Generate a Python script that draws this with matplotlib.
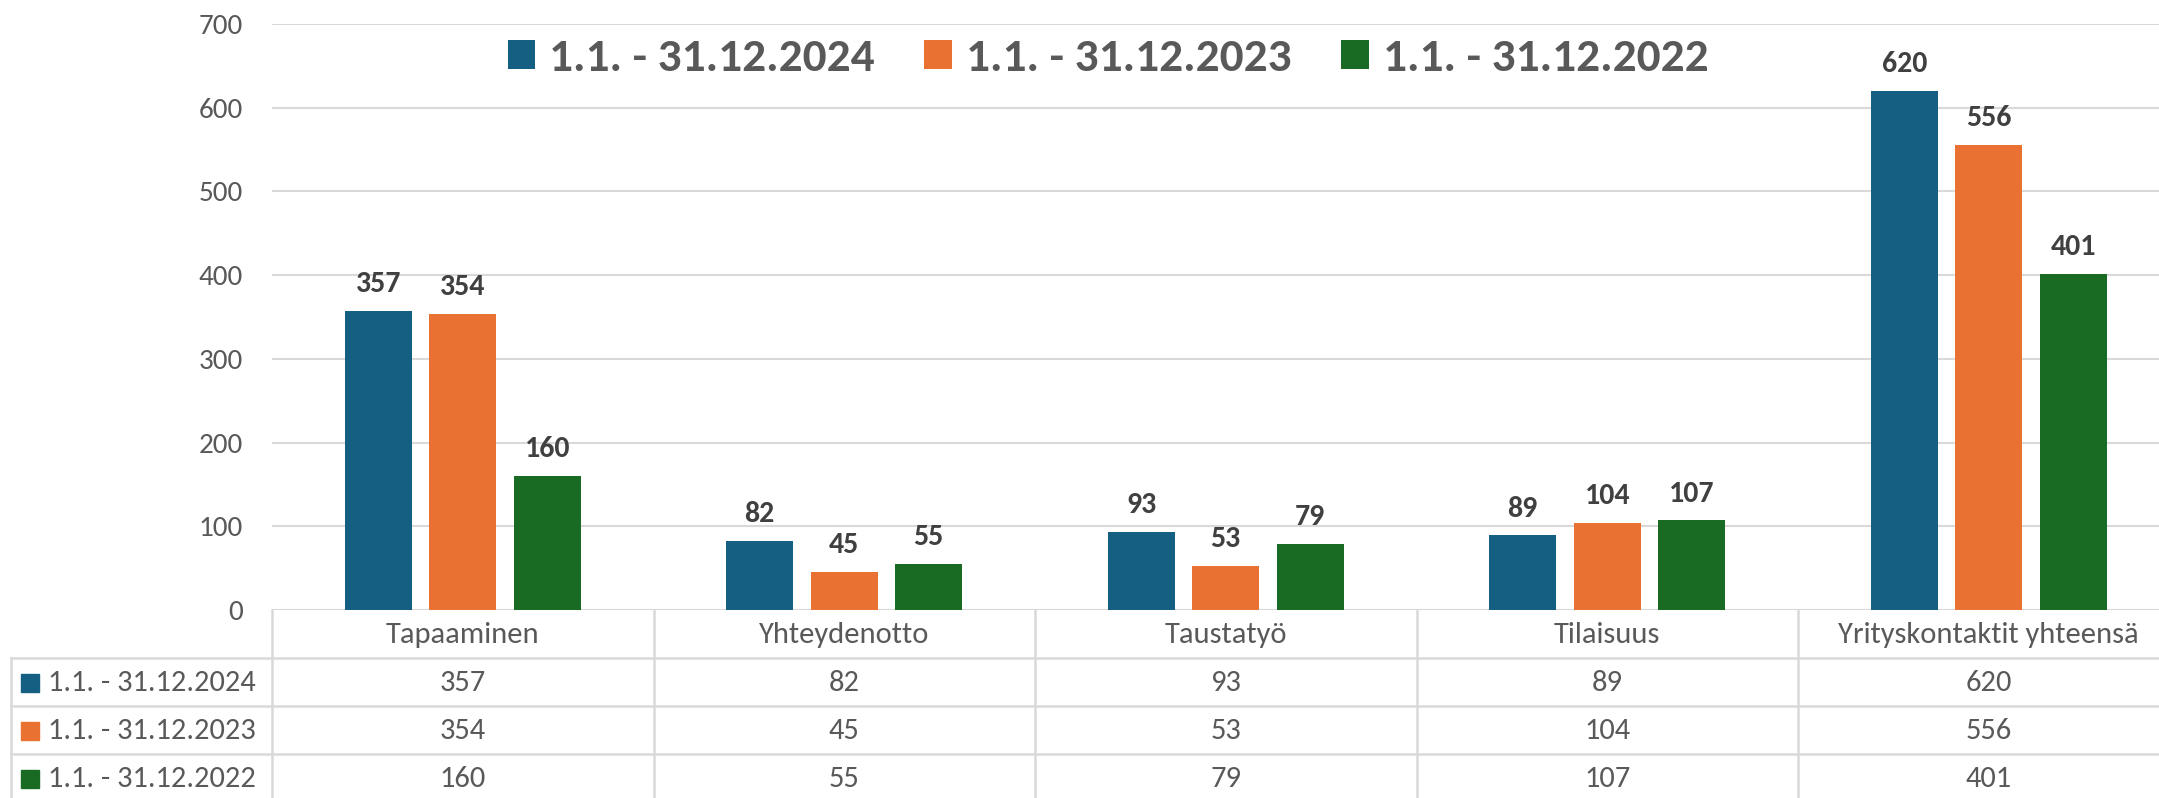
import numpy as np
import matplotlib
matplotlib.use("Agg")
import matplotlib.pyplot as plt
from matplotlib import font_manager
from matplotlib.patches import Rectangle

# data
categories = ["Tapaaminen", "Yhteydenotto", "Taustatyö", "Tilaisuus", "Yrityskontaktit yhteensä"]
series_names = ["1.1. - 31.12.2024", "1.1. - 31.12.2023", "1.1. - 31.12.2022"]
vals_2024 = [357, 82, 93, 89, 620]
vals_2023 = [354, 45, 53, 104, 556]
vals_2022 = [160, 55, 79, 107, 401]
series = [vals_2024, vals_2023, vals_2022]
colors = ["#156082", "#E97132", "#196B24"]

# fonts
installed = {f.name for f in font_manager.fontManager.ttflist}
def pick(*names):
    for n in names:
        if n in installed:
            return n
    return "DejaVu Sans"
body_font = pick("Carlito", "Lato", "Open Sans", "DejaVu Sans")
legend_font = pick("Liberation Sans Narrow", "Carlito", "Lato")
plt.rcParams["font.family"] = [body_font, "DejaVu Sans"]

W, H = 2159, 798
fig = plt.figure(figsize=(W / 100, H / 100), dpi=100)

# pixel layout
x_left = 272
col_w = 381.5
y_zero = 610
y_top = 24
x_right = x_left + 5 * col_w

ax = fig.add_axes([x_left / W, (H - y_zero) / H, (x_right - x_left) / W, (y_zero - y_top) / H])
x = np.arange(len(categories))
bw = 0.176
step = 0.2215
for i, (vals, c, name) in enumerate(zip(series, colors, series_names)):
    bars = ax.bar(x + (i - 1) * step, vals, bw, color=c, label=name, zorder=3)
    for b, v in zip(bars, vals):
        ax.annotate(str(v), (b.get_x() + b.get_width() / 2, v), xytext=(0, 10),
                    textcoords="offset points", ha="center", va="bottom",
                    fontsize=21.5, fontweight="bold", color="#404040")

ax.set_xlim(-0.5, 4.5)
ax.set_ylim(0, 700)
ax.set_yticks(range(0, 701, 100))
ax.tick_params(axis="y", length=0, pad=21, labelsize=21, labelcolor="#595959")
ax.set_xticks([])
ax.grid(axis="y", color="#D9D9D9", linewidth=1.5, zorder=0)
for s in ax.spines.values():
    s.set_visible(False)

leg = fig.legend(loc="center", bbox_to_anchor=(1108 / W, 1 - 58 / H), ncol=3, frameon=False,
                 prop={"family": legend_font, "weight": "bold", "size": 34},
                 handlelength=0.58, handleheight=0.58, handletextpad=0.3, columnspacing=1.05)
for t in leg.get_texts():
    t.set_color("#595959")

# data table under the chart
row_h = 48
tab_bottom = y_zero + 4 * row_h
tx = fig.add_axes([x_left / W, (H - tab_bottom) / H, (x_right - x_left) / W, 4 * row_h / H])
tx.set_xlim(-0.5, 4.5)
tx.set_ylim(4, 0)
tx.axis("off")
x_tab_left = -0.5 - (x_left - 11) / col_w
line_kw = dict(color="#D9D9D9", linewidth=1.8, clip_on=False)
for r in [1, 2, 3, 4]:
    tx.plot([x_tab_left, 4.5], [r, r], **line_kw)
for k in range(6):
    tx.plot([-0.5 + k, -0.5 + k], [0, 4], **line_kw)
tx.plot([x_tab_left, x_tab_left], [1, 4], **line_kw)

for j, cat in enumerate(categories):
    tx.text(j, 0.52, cat, ha="center", va="center", fontsize=22, color="#595959")
for i, (vals, c, name) in enumerate(zip(series, colors, series_names)):
    yc = i + 1.52
    tx.add_patch(Rectangle((x_tab_left + 10 / col_w, yc - 0.19), 18 / col_w, 0.38,
                           color=c, clip_on=False))
    tx.text(x_tab_left + 37 / col_w, yc, name, ha="left", va="center", fontsize=22,
            color="#595959", clip_on=False)
    for j, v in enumerate(vals):
        tx.text(j, yc, str(v), ha="center", va="center", fontsize=22, color="#595959")

fig.savefig("out.png", dpi=100)
